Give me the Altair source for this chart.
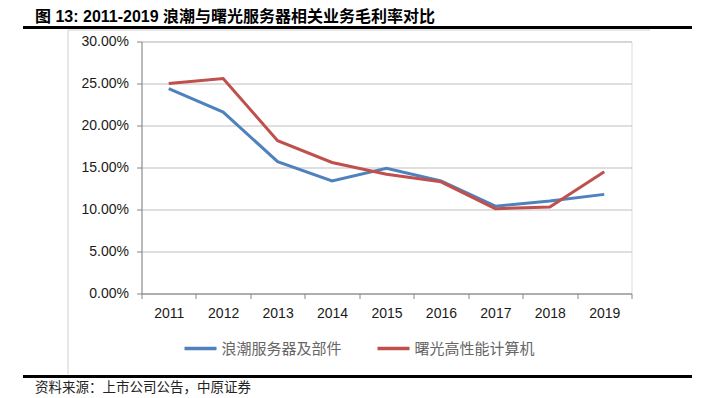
import altair as alt
import pandas as pd

years = ["2011", "2012", "2013", "2014", "2015", "2016", "2017", "2018", "2019"]
inspur = [0.244, 0.216, 0.157, 0.134, 0.149, 0.134, 0.104, 0.110, 0.118]
sugon = [0.250, 0.256, 0.182, 0.156, 0.142, 0.133, 0.101, 0.103, 0.145]
series_names = ["浪潮服务器及部件", "曙光高性能计算机"]
series_colors = ["#4F81BD", "#C0504D"]
y_ticks = [0, 0.05, 0.10, 0.15, 0.20, 0.25, 0.30]
title_text = "图 13:  2011-2019 浪潮与曙光服务器相关业务毛利率对比"
source_text = "资料来源：上市公司公告，中原证券"

rows = []
for y, a, b in zip(years, inspur, sugon):
    rows.append({"year": y, "series": series_names[0], "value": a})
    rows.append({"year": y, "series": series_names[1], "value": b})
df = pd.DataFrame(rows)

W, H = 490, 252
PL, PT = 133.5, 33.5
OX, OY = 141.5, 41.5

lines = alt.Chart(df).mark_line(strokeWidth=3).encode(
    x=alt.X("year:N", sort=years, bandPosition=0.5,
            scale=alt.Scale(type="band", paddingInner=0, paddingOuter=0),
            axis=alt.Axis(title=None, labelAngle=0, tickBand="extent", grid=False,
                          domainColor="#868686", tickColor="#868686", tickSize=5,
                          labelFont="Liberation Sans", labelFontSize=14,
                          labelColor="#1a1a1a", labelPadding=8)),
    y=alt.Y("value:Q", scale=alt.Scale(domain=[0, 0.3], nice=False),
            axis=alt.Axis(title=None, values=y_ticks, format=".2%", grid=True,
                          gridColor="#BFBFBF", domainColor="#868686",
                          tickColor="#868686", tickSize=5,
                          labelFont="Liberation Sans", labelFontSize=14,
                          labelColor="#1a1a1a", labelPadding=8)),
    color=alt.Color("series:N", sort=series_names,
                    scale=alt.Scale(domain=series_names, range=series_colors),
                    legend=alt.Legend(title=None, orient="none", direction="horizontal",
                                      legendX=41, legendY=289, padding=0,
                                      symbolType="stroke", symbolStrokeWidth=3.5,
                                      symbolSize=1024, labelOffset=3,
                                      columnPadding=28,
                                      labelFont="Noto Sans CJK SC", labelFontSize=15,
                                      labelColor="#666666")),
)

one = pd.DataFrame({"k": [0]})
base = alt.Chart(one)

title = base.mark_text(align="left", baseline="middle", fontSize=16, fontWeight="bold",
                       font="Liberation Sans, Noto Sans CJK SC", color="#000").encode(
    x=alt.value(35 - OX), y=alt.value(17 - OY), text=alt.value(title_text))

source = base.mark_text(align="left", baseline="middle", fontSize=13.5,
                        font="Noto Sans CJK SC", color="#222").encode(
    x=alt.value(35 - OX), y=alt.value(388 - OY), text=alt.value(source_text))

top_rule = base.mark_rule(color="#000", strokeWidth=3).encode(
    x=alt.value(23 - OX), x2=alt.value(692 - OX), y=alt.value(27.5 - OY))
bottom_rule = base.mark_rule(color="#000", strokeWidth=3).encode(
    x=alt.value(23 - OX), x2=alt.value(692 - OX), y=alt.value(376.5 - OY))
frame_top = base.mark_rule(color="#D0D0D0", strokeWidth=1).encode(
    x=alt.value(68 - OX), x2=alt.value(650 - OX), y=alt.value(30 - OY))
frame_left = base.mark_rule(color="#D0D0D0", strokeWidth=1).encode(
    x=alt.value(68 - OX), y=alt.value(30 - OY), y2=alt.value(374 - OY))

chart = alt.layer(lines, frame_top, frame_left, top_rule, bottom_rule, title, source).properties(
    width=W, height=H,
    autosize=alt.AutoSizeParams(type="none"),
    padding={"left": PL, "top": PT, "right": 689 - PL - W, "bottom": 390 - PT - H},
).configure_view(stroke=None).configure(background="white")

chart.save("out.html", embed_options={"renderer": "svg", "actions": False})
